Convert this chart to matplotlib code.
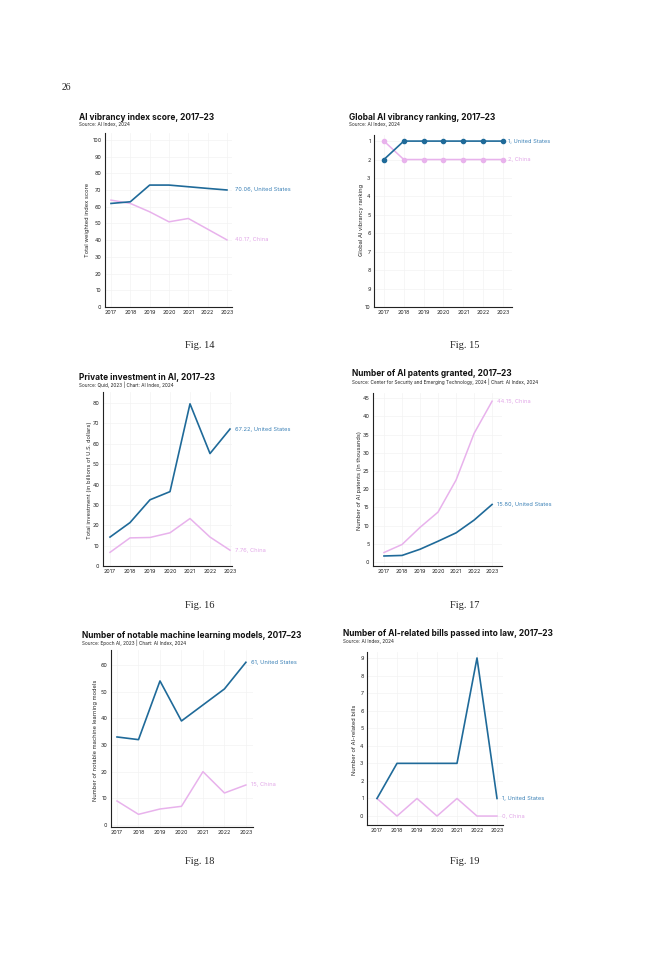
import matplotlib
matplotlib.use("Agg")
import matplotlib.pyplot as plt

W, H = 648, 960
plt.rcParams['font.family'] = ['Inter', 'DejaVu Sans']

years = [2017, 2018, 2019, 2020, 2021, 2022, 2023]

# Fig 14
vib_us = [62, 63, 73, 73, 72, 71, 70.06]
vib_cn = [64, 62, 57, 51, 53, 46.6, 40.17]
# Fig 15
rank_us = [2, 1, 1, 1, 1, 1, 1]
rank_cn = [1, 2, 2, 2, 2, 2, 2]
# Fig 16
inv_us = [14.2, 21.3, 32.5, 36.5, 79.6, 55.2, 67.22]
inv_cn = [6.7, 13.8, 14.0, 16.3, 23.3, 14.2, 7.76]
# Fig 17
pat_us = [1.65, 1.8, 3.5, 5.7, 8.0, 11.5, 15.80]
pat_cn = [2.6, 4.8, 9.5, 13.7, 22.5, 35.3, 44.15]
# Fig 18
mod_us = [33, 32, 54, 39, 45, 51, 61]
mod_cn = [9, 4, 6, 7, 20, 12, 15]
# Fig 19
law_us = [1, 3, 3, 3, 3, 9, 1]
law_cn = [1, 0, 1, 0, 1, 0, 0]

US_LINE = '#1f6a99'
US_TXT = '#3a80b6'
CN_LINE = '#e8b2ec'
CN_TXT = '#e2a8e8'

fig = plt.figure(figsize=(W/100, H/100), dpi=100)
fig.patch.set_facecolor('white')


def px_axes(l, t, r, b):
    return fig.add_axes([l/W, 1-b/H, (r-l)/W, (b-t)/H])


def ftext(x, y, s, **kw):
    fig.text(x/W, 1-y/H, s, **kw)


def style(ax, xlim, ylim, yticks):
    ax.set_xlim(*xlim)
    ax.set_ylim(*ylim)
    ax.set_xticks(years)
    ax.set_xticklabels([str(y) for y in years])
    ax.set_yticks(yticks)
    for s in ['top', 'right']:
        ax.spines[s].set_visible(False)
    for s in ['left', 'bottom']:
        ax.spines[s].set_color('#222222')
        ax.spines[s].set_linewidth(0.8)
    ax.tick_params(length=0, labelsize=3.9, pad=2.5, colors='#222222')
    ax.grid(True, color='#f3f3f3', linewidth=0.5)
    ax.set_axisbelow(True)
    ax.set_facecolor('white')


def label(ax, x, y, s, color, dx=3.5, dy=0):
    ax.annotate(s, (x, y), xytext=(dx, dy), textcoords='offset points',
                ha='left', va='center', fontsize=4.1, color=color)


def head(x, y, title, source):
    ftext(x, y, title, fontsize=6.0, fontweight='bold', ha='left', va='center', color='#111111')
    ftext(x, y + 7.5, source, fontsize=3.4, ha='left', va='center', color='#222222')


def ylab(x, yc, s):
    ftext(x, yc, s, fontsize=4.1, rotation=90, ha='center', va='center', color='#222222')


def cap(x, y, s):
    ftext(x, y, s, fontsize=7.5, family='Liberation Serif', ha='center', va='center', color='#222222')


# Page number
ftext(62, 87, '26', fontsize=7, family='Liberation Serif', ha='left', va='center', color='#222222')

# ---------- Fig 14 ----------
ax = px_axes(105, 133.3, 232, 307)
style(ax, (2016.69, 2023.26), (0, 104), range(0, 101, 10))
ax.plot(years, vib_cn, color=CN_LINE, lw=1.1, zorder=3)
ax.plot(years, vib_us, color=US_LINE, lw=1.2, zorder=4)
label(ax, years[-1], vib_us[-1], '70.06, United States', US_TXT, dx=5.5)
label(ax, years[-1], vib_cn[-1], '40.17, China', CN_TXT, dx=5.5)
head(79, 117, 'AI vibrancy index score, 2017–23', 'Source: AI Index, 2024')
ylab(87, 220, 'Total weighted index score')
cap(200, 345, 'Fig. 14')

# ---------- Fig 15 ----------
ax = px_axes(374, 135, 512, 307)
style(ax, (2016.5, 2023.45), (10, 0.67), range(1, 11))
ax.plot(years, rank_cn, color=CN_LINE, lw=1.1, marker='o', ms=3, zorder=3)
ax.plot(years, rank_us, color=US_LINE, lw=1.2, marker='o', ms=3, zorder=4)
label(ax, years[-1], rank_us[-1], '1, United States', US_TXT)
label(ax, years[-1], rank_cn[-1], '2, China', CN_TXT)
head(349, 117, 'Global AI vibrancy ranking, 2017–23', 'Source: AI Index, 2024')
ylab(361, 220, 'Global AI vibrancy ranking')
cap(465, 345, 'Fig. 15')

# ---------- Fig 16 ----------
ax = px_axes(103, 392, 232, 566)
style(ax, (2016.65, 2023.1), (0, 85.4), range(0, 81, 10))
ax.plot(years, inv_cn, color=CN_LINE, lw=1.1, zorder=3)
ax.plot(years, inv_us, color=US_LINE, lw=1.2, zorder=4)
label(ax, years[-1], inv_us[-1], '67.22, United States', US_TXT)
label(ax, years[-1], inv_cn[-1], '7.76, China', CN_TXT)
head(79, 377, 'Private investment in AI, 2017–23', 'Source: Quid, 2023 | Chart: AI Index, 2024')
ylab(89, 480, 'Total investment (in billions of U.S. dollars)')
cap(200, 606, 'Fig. 16')

# ---------- Fig 17 ----------
ax = px_axes(373, 393, 502, 566)
style(ax, (2016.39, 2023.55), (-1.1, 46.4), range(0, 46, 5))
ax.plot(years, pat_cn, color=CN_LINE, lw=1.1, zorder=3)
ax.plot(years, pat_us, color=US_LINE, lw=1.2, zorder=4)
label(ax, years[-1], pat_us[-1], '15.80, United States', US_TXT)
label(ax, years[-1], pat_cn[-1], '44.15, China', CN_TXT)
head(352, 374, 'Number of AI patents granted, 2017–23',
     'Source: Center for Security and Emerging Technology, 2024 | Chart: AI Index, 2024')
ylab(359, 480, 'Number of AI patents (in thousands)')
cap(465, 606, 'Fig. 17')

# ---------- Fig 18 ----------
ax = px_axes(111, 650, 253, 827)
style(ax, (2016.72, 2023.33), (-0.75, 65.6), range(0, 61, 10))
ax.plot(years, mod_cn, color=CN_LINE, lw=1.1, zorder=3)
ax.plot(years, mod_us, color=US_LINE, lw=1.2, zorder=4)
label(ax, years[-1], mod_us[-1], '61, United States', US_TXT)
label(ax, years[-1], mod_cn[-1], '15, China', CN_TXT)
head(82, 635, 'Number of notable machine learning models, 2017–23',
     'Source: Epoch AI, 2023 | Chart: AI Index, 2024')
ylab(95, 740, 'Number of notable machine learning models')
cap(200, 862, 'Fig. 18')

# ---------- Fig 19 ----------
ax = px_axes(367, 652, 503, 825)
style(ax, (2016.5, 2023.3), (-0.51, 9.34), range(0, 10))
ax.plot(years, law_cn, color=CN_LINE, lw=1.1, zorder=3)
ax.plot(years, law_us, color=US_LINE, lw=1.2, zorder=4)
label(ax, years[-1], law_us[-1], '1, United States', US_TXT)
label(ax, years[-1], law_cn[-1], '0, China', CN_TXT)
head(343, 634, 'Number of AI-related bills passed into law, 2017–23', 'Source: AI Index, 2024')
ylab(355, 740, 'Number of AI-related bills')
cap(465, 862, 'Fig. 19')

fig.savefig('out.png', dpi=100, facecolor='white')
